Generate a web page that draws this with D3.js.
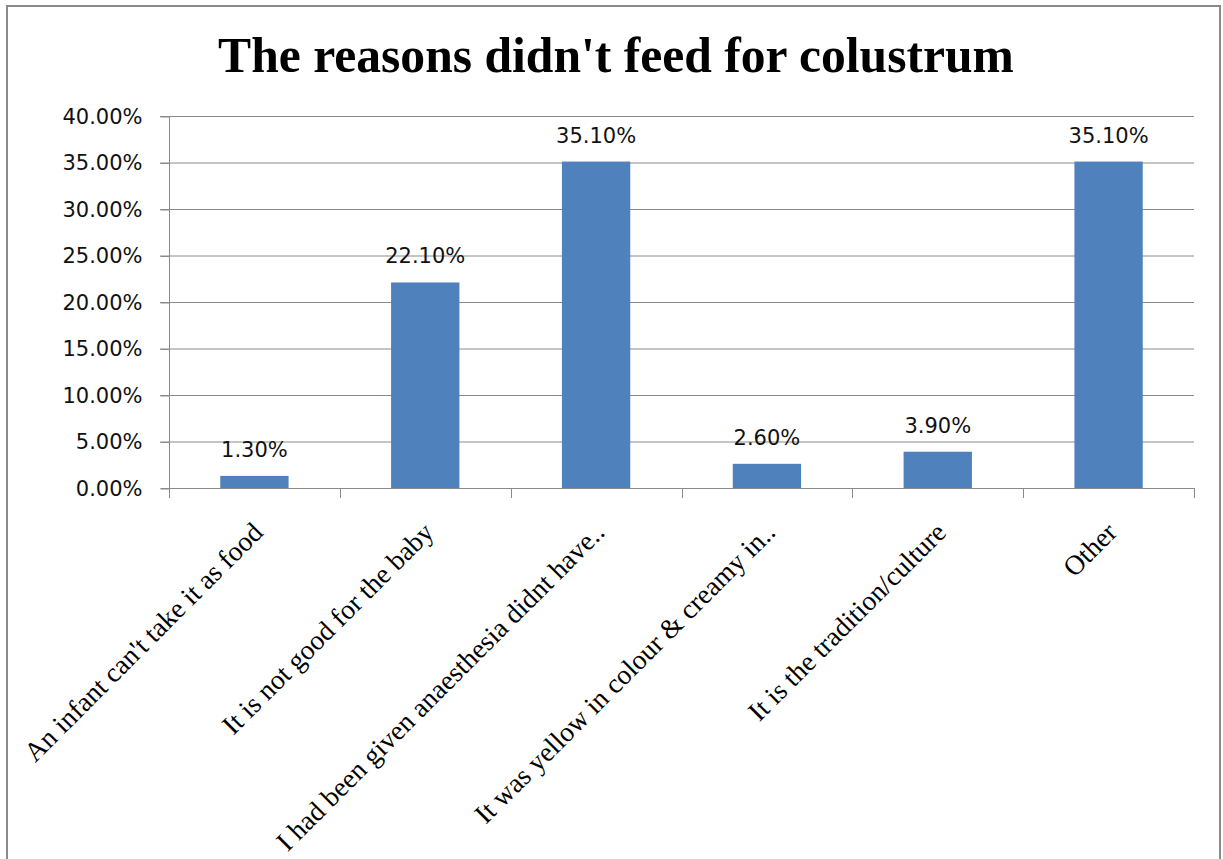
<!DOCTYPE html>
<html><head><meta charset="utf-8">
<script src="https://cdn.jsdelivr.net/npm/d3@7"></script>
<style>html,body{margin:0;padding:0;background:#fff;}</style>
</head><body>
<svg id="c" width="1223" height="859"></svg>
<script>
const categories = [
  "An infant can't take it as food",
  "It is not good for the baby",
  "I had been given anaesthesia didnt have..",
  "It was yellow in colour & creamy in..",
  "It is the tradition/culture",
  "Other"
];
const values = [1.3, 22.1, 35.1, 2.6, 3.9, 35.1];
const yTicks = [0, 5, 10, 15, 20, 25, 30, 35, 40];
const titleText = "The reasons didn't feed for colustrum";

(function () {
const svg = d3.select("#c");
const pL = 169, pR = 1194, pT = 116, pB = 488;

svg.append("rect").attr("x", 7).attr("y", 6).attr("width", 1213).attr("height", 870)
  .attr("fill", "#fff").attr("stroke", "#8a8a8a").attr("stroke-width", 2);

const x = d3.scaleBand().domain(categories).range([pL, pR]).paddingInner(0.6).paddingOuter(0.3);
const y = d3.scaleLinear().domain([0, 40]).range([pB, pT]);

// gridlines
svg.append("g").selectAll("line").data(yTicks.slice(1)).join("line")
  .attr("x1", pL - 9).attr("x2", pR).attr("y1", d => y(d) + 0.5).attr("y2", d => y(d) + 0.5)
  .attr("stroke", "#8a8a8a").attr("stroke-width", 1);

// y axis
const yAxis = d3.axisLeft(y).tickValues(yTicks).tickSize(9).tickPadding(18)
  .tickFormat(d => d.toFixed(2) + "%");
const gy = svg.append("g").attr("transform", `translate(${pL + 0.5},0.5)`).call(yAxis);
gy.select(".domain").attr("stroke", "#8a8a8a").attr("d", `M-9,${pB}H0V${pT}`);
gy.selectAll(".tick line").attr("stroke", "#8a8a8a");
gy.selectAll("text").attr("font-family", "DejaVu Sans").attr("font-size", 21).attr("fill", "#111");

// bars
svg.append("g").selectAll("rect").data(values).join("rect")
  .attr("x", (d, i) => x(categories[i])).attr("width", x.bandwidth())
  .attr("y", d => y(d)).attr("height", d => y(0) - y(d))
  .attr("fill", "#4F81BD");

// x axis
const bounds = d3.range(categories.length + 1).map(i => pL + i * (pR - pL) / categories.length);
const gx = svg.append("g");
gx.append("line").attr("x1", pL).attr("x2", pR).attr("y1", pB + 0.5).attr("y2", pB + 0.5)
  .attr("stroke", "#8a8a8a");
gx.selectAll("line.t").data(bounds).join("line").attr("class", "t")
  .attr("x1", d => Math.round(d) + 0.5).attr("x2", d => Math.round(d) + 0.5)
  .attr("y1", pB).attr("y2", pB + 10).attr("stroke", "#8a8a8a");

// x labels
svg.append("g").selectAll("text").data(categories).join("text")
  .attr("transform", d => `translate(${x(d) + x.bandwidth() / 2 + 10},534) rotate(-45)`)
  .attr("text-anchor", "end")
  .attr("font-family", "Liberation Serif").attr("font-size", 27.5).attr("fill", "#000")
  .text(d => d);

// data labels
svg.append("g").selectAll("text").data(values).join("text")
  .attr("x", (d, i) => x(categories[i]) + x.bandwidth() / 2)
  .attr("y", d => y(d) - 19)
  .attr("text-anchor", "middle")
  .attr("font-family", "DejaVu Sans").attr("font-size", 21).attr("fill", "#111")
  .text(d => d.toFixed(2) + "%");

// title
svg.append("text").attr("x", 616).attr("y", 72).attr("text-anchor", "middle")
  .attr("font-family", "Liberation Serif").attr("font-weight", "bold").attr("font-size", 49.6)
  .attr("fill", "#000").text(titleText);
})();
</script>
</body></html>
